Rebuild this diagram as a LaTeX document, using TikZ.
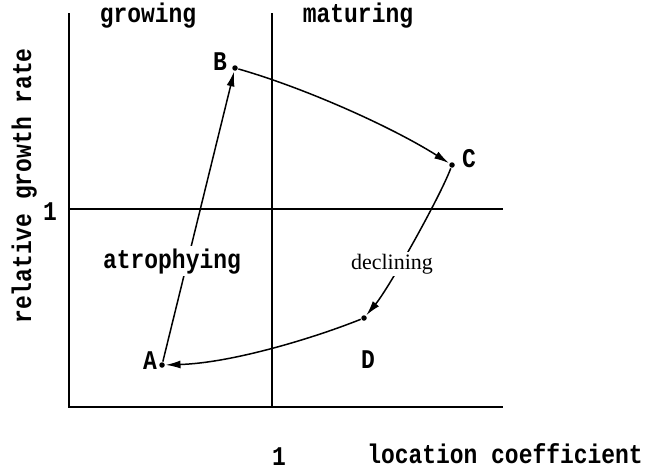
\documentclass[tikz,border=0pt]{standalone}
\usepackage{fontspec}
\setmainfont{Liberation Serif}
\newfontfamily\monofont{Liberation Mono}[FakeStretch=0.85]
\usetikzlibrary{arrows.meta}

\begin{document}
\begin{tikzpicture}[x=1pt,y=-1pt,>={Latex[length=15pt,width=8pt]},line width=1.5pt,
  lab/.style={font=\monofont\bfseries\fontsize{27}{27}\selectfont,inner sep=0pt,anchor=base},
  pt/.style={circle,fill,inner sep=0pt,minimum size=5.5pt}]
  \useasboundingbox (0,0) rectangle (647,471);
  % quadrants
  \draw (69,13) -- (69,407) -- (503,407);
  \draw (272,13) -- (272,407);
  \draw (69,209) -- (503,209);
  % the four states
  \foreach \n/\x/\y in {A/162/365,B/235/68,C/452/165,D/364/318}
    \node[pt] (\n) at (\x,\y) {};
  \draw[->] (A) -- (B);
  \draw[->] (B) .. controls (305,88) and (392,127) .. (C);
  \draw[->] (C) .. controls (440,197) and (389,288) .. (D);
  \draw[->] (D) .. controls (314,338) and (232,363) .. (A);
  % labels
  \node[lab] (labA) at (150,369) {A};
  \node[lab] (labB) at (220,70) {B};
  \node[lab] (labC) at (469,167) {C};
  \node[lab] (labD) at (368,368) {D};
  \node[lab] (grow) at (148,22) {growing};
  \node[lab] (mat) at (358,22) {maturing};
  \node[lab,fill=white,inner sep=2pt] (atro) at (172,268) {atrophying};
  \node[font=\fontsize{22}{22}\selectfont,fill=white,inner sep=2pt,anchor=base] (decl) at (392,269) {declining};
  \node[lab] (one1) at (50,220) {1};
  \node[lab] (one2) at (279,465) {1};
  \node[lab] (xlab) at (505,463) {location coefficient};
  \node[lab,rotate=90] (ylab) at (31,186) {relative growth rate};
\end{tikzpicture}
\end{document}
